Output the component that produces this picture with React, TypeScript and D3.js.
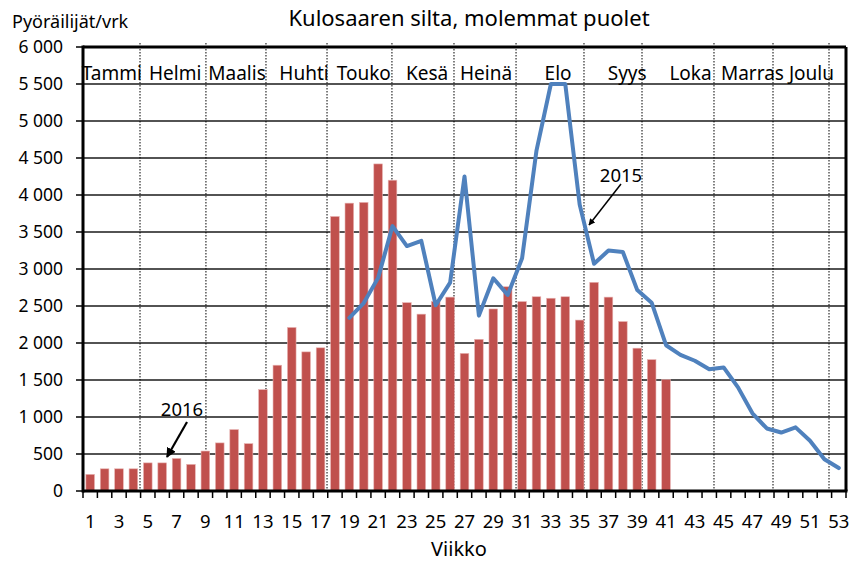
import React from "react";
import * as d3 from "d3";

const weeks: number[] = d3.range(1, 54);
const xTickLabels: number[] = d3.range(1, 54, 2);
const yTicks: number[] = d3.range(0, 6001, 500);

const bars2016: number[] = [
  225, 300, 300, 300, 380, 380, 440, 360, 540, 650,
  830, 640, 1370, 1700, 2210, 1880, 1935, 3710, 3890, 3900,
  4420, 4200, 2545, 2390, 2560, 2620, 1860, 2050, 2460, 2760,
  2560, 2625, 2605, 2625, 2310, 2820, 2620, 2290, 1930, 1775,
  1505,
];

const line2015Weeks: number[] = d3.range(19, 54);
const line2015: number[] = [
  2340, 2540, 2880, 3580, 3310, 3380, 2510, 2815, 4250, 2370,
  2875, 2650, 3145, 4600, 5500, 5500, 3870, 3070, 3250, 3230,
  2715, 2545, 1970, 1840, 1760, 1645, 1670, 1400, 1050, 845,
  790, 860, 680, 430, 310,
];

const months: string[] = ["Tammi", "Helmi", "Maalis", "Huhti", "Touko", "Kesä", "Heinä", "Elo", "Syys", "Loka", "Marras", "Joulu"];
const monthLabelPos: number[] = [2.0, 6.4, 10.7, 15.35, 19.5, 23.9, 28.0, 33.0, 37.8, 42.2, 46.5, 50.6];
const monthBoundaries: number[] = [3.96, 8.54, 12.71, 16.95, 21.46, 25.77, 30.08, 34.8, 38.83, 43.83, 47.93, 51.82];

const W = 859, H = 562;
const L = 83, R = 846, T = 47, B = 491;
const FONT = "'Noto Sans', 'Open Sans', sans-serif";

const fmt = (v: number) => d3.format(",")(v).replace(/,/g, " ");

export default function App() {
  const x = d3.scaleBand<number>().domain(weeks).range([L, R]).paddingInner(0.4).paddingOuter(0.2);
  const xl = d3.scaleLinear().domain([0, 53]).range([L, R]);
  const y = d3.scaleLinear().domain([0, 6000]).range([B, T]);
  const cx = (w: number) => xl(w - 0.5);

  const line = d3.line<number>()
    .x((_, i) => cx(line2015Weeks[i]))
    .y((d) => y(d));

  return (
    <svg width={W} height={H} style={{ position: "absolute", left: 0, top: 0, background: "#fff" }} fontFamily={FONT}>
      <rect x={0} y={0} width={W} height={H} fill="#fff" />
      {/* gridlines */}
      {yTicks.filter((t) => t > 0 && t < 6000).map((t) => (
        <line key={"g" + t} x1={L} x2={R} y1={y(t)} y2={y(t)} stroke="#1a1a1a" strokeWidth={1.5} />
      ))}
      {/* month dotted separators */}
      {monthBoundaries.map((m, i) => (
        <line key={"m" + i} x1={xl(m)} x2={xl(m)} y1={T - 4} y2={B} stroke="#000" strokeWidth={1} strokeDasharray="1.5,1.5" />
      ))}
      {/* bars */}
      {bars2016.map((v, i) => (
        <rect key={"b" + i} x={x(weeks[i])!} y={y(v)} width={x.bandwidth()} height={B - y(v)}
          fill="#C0504D" stroke="#E8B4B3" strokeWidth={0.6} />
      ))}
      {/* line 2015 */}
      <path d={line(line2015) || ""} fill="none" stroke="#4F81BD" strokeWidth={4} strokeLinejoin="round" strokeLinecap="round" />
      {/* border */}
      <line x1={L} x2={R} y1={T} y2={T} stroke="#000" strokeWidth={3} />
      <line x1={R} x2={R} y1={T} y2={B} stroke="#000" strokeWidth={3} />
      <line x1={L} x2={L} y1={T - 1.5} y2={B + 1.5} stroke="#000" strokeWidth={3} />
      <line x1={L} x2={R + 1.5} y1={B} y2={B} stroke="#000" strokeWidth={3} />
      {/* y ticks */}
      {yTicks.map((t) => (
        <g key={"y" + t}>
          <line x1={L - 7} x2={L} y1={y(t)} y2={y(t)} stroke="#000" strokeWidth={1.5} />
          <text x={63} y={y(t)} dy="0.35em" textAnchor="end" fontSize={17.5} fill="#000">{fmt(t)}</text>
        </g>
      ))}
      {/* x ticks */}
      {d3.range(0, 54).map((k) => (
        <line key={"xt" + k} x1={xl(k)} x2={xl(k)} y1={B} y2={B + 7} stroke="#000" strokeWidth={1.5} />
      ))}
      {xTickLabels.map((w) => (
        <text key={"xl" + w} x={cx(w)} y={528} textAnchor="middle" fontSize={18.5} fill="#000">{w}</text>
      ))}
      {/* month labels */}
      {months.map((m, i) => (
        <text key={"ml" + i} x={xl(monthLabelPos[i])} y={80} textAnchor="middle" fontSize={19} fill="#000">{m}</text>
      ))}
      {/* titles */}
      <text x={469} y={26} textAnchor="middle" fontSize={22} fill="#000">Kulosaaren silta, molemmat puolet</text>
      <text x={12} y={28} fontSize={18} fill="#000">Pyöräilijät/vrk</text>
      <text x={459} y={556} textAnchor="middle" fontSize={20} fill="#000">Viikko</text>
      {/* annotations */}
      <defs>
        <marker id="ah" viewBox="0 0 10 10" refX="9" refY="5" markerWidth="4.5" markerHeight="4.5" orient="auto" markerUnits="strokeWidth">
          <path d="M0,0 L10,5 L0,10 z" fill="#000" />
        </marker>
      </defs>
      <text x={182} y={416} textAnchor="middle" fontSize={18.5} fill="#000">2016</text>
      <line x1={187} y1={422} x2={167} y2={457} stroke="#000" strokeWidth={2.2} markerEnd="url(#ah)" />
      <text x={621} y={182} textAnchor="middle" fontSize={18.5} fill="#000">2015</text>
      <line x1={621} y1={184} x2={589} y2={225} stroke="#000" strokeWidth={1.5} markerEnd="url(#ah)" />
    </svg>
  );
}
